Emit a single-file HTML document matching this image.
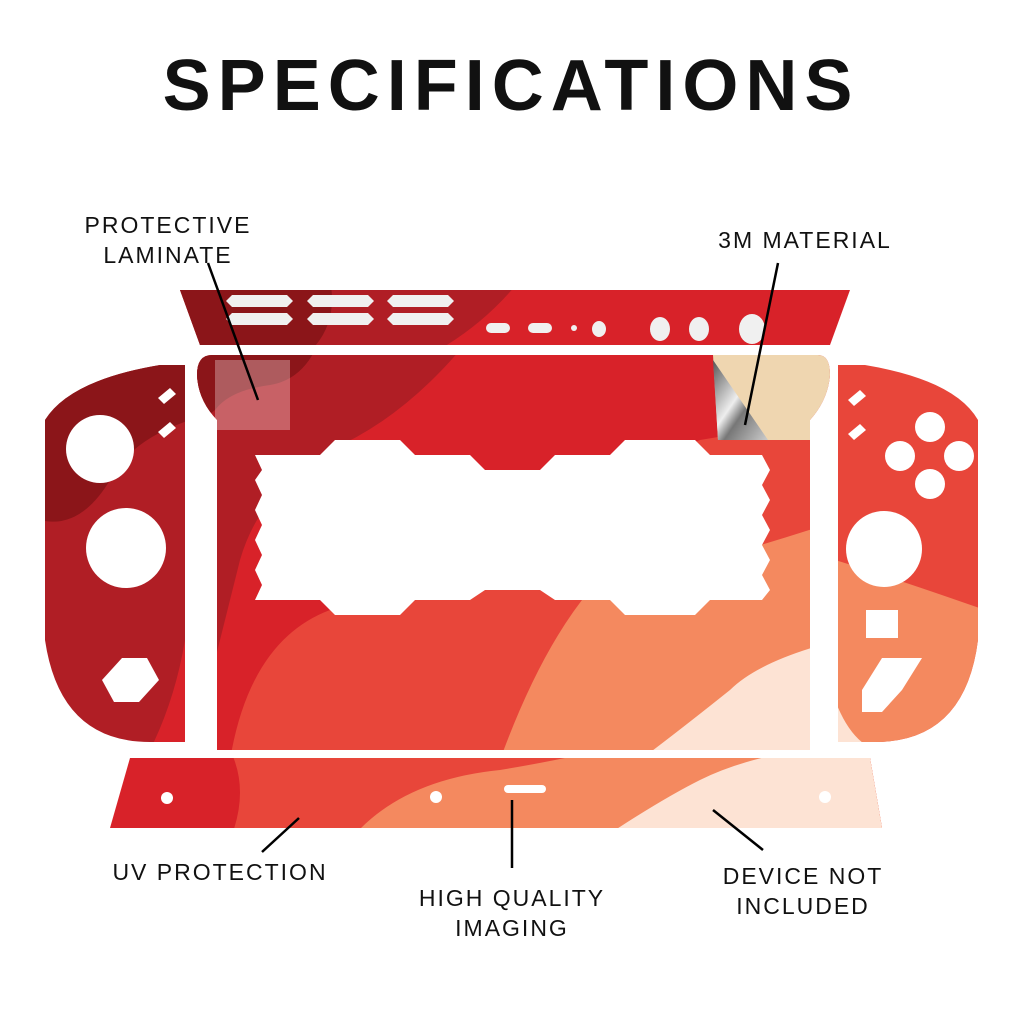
<!DOCTYPE html>
<html><head><style>
body{margin:0;background:#fff;width:1024px;height:1024px;overflow:hidden}
svg{display:block}
text{font-family:"Liberation Sans",sans-serif;fill:#111}
.l{font-size:23px;letter-spacing:2px}
</style></head><body>
<svg width="1024" height="1024" viewBox="0 0 1024 1024">
<defs>
<clipPath id="body"><path d="M212,355 H818 Q830,355 830,375 Q828,400 810,420 V750 H217 V420 Q198,400 197,375 Q197,355 212,355 Z"/></clipPath>
<clipPath id="top"><path d="M180,290 H850 L830,345 H200 Z"/></clipPath>
<clipPath id="lj"><path d="M185,365 V742 H150 Q60,742 45,640 V420 Q70,380 160,365 Z"/></clipPath>
<clipPath id="rj"><path d="M838,365 V742 H875 Q965,742 978,640 V420 Q955,380 865,365 Z"/></clipPath>
<clipPath id="bot"><path d="M130,758 H870 L882,828 H110 Z"/></clipPath>
<linearGradient id="met" x1="0" y1="0" x2="1" y2="1"><stop offset="0" stop-color="#555"/><stop offset=".45" stop-color="#eee"/><stop offset=".6" stop-color="#777"/><stop offset="1" stop-color="#ccc"/></linearGradient>
</defs>
<text x="511" y="110" text-anchor="middle" style="font-size:72px;font-weight:900;letter-spacing:7px">SPECIFICATIONS</text>

<g clip-path="url(#top)">
<rect x="170" y="280" width="700" height="80" fill="#d82229"/>
<path d="M170,280 H520 Q480,330 420,360 H170Z" fill="#b01e25"/>
<path d="M170,280 H330 Q340,330 300,360 H170Z" fill="#8b1519"/>
</g>
<g fill="#f0f0f0">
<path d="M232,295h55l6,6l-6,6h-55l-6-6z"/><path d="M313,295h55l6,6l-6,6h-55l-6-6z"/><path d="M393,295h55l6,6l-6,6h-55l-6-6z"/>
<path d="M232,313h55l6,6l-6,6h-55l-6-6z"/><path d="M313,313h55l6,6l-6,6h-55l-6-6z"/><path d="M393,313h55l6,6l-6,6h-55l-6-6z"/>
<rect x="486" y="323" width="24" height="10" rx="5"/><rect x="528" y="323" width="24" height="10" rx="5"/>
<circle cx="574" cy="328" r="3"/><ellipse cx="599" cy="329" rx="7" ry="8"/>
<ellipse cx="660" cy="329" rx="10" ry="12"/><ellipse cx="699" cy="329" rx="10" ry="12"/><ellipse cx="752" cy="329" rx="13" ry="15"/>
</g>

<g clip-path="url(#body)">
<rect x="190" y="350" width="650" height="410" fill="#d82229"/>
<path d="M190,350 H460 Q400,420 330,450 Q260,490 240,560 L190,760Z" fill="#b01e25"/>
<path d="M190,350 H315 Q300,380 270,385 Q230,390 215,410 L190,430Z" fill="#8b1519"/>
<path d="M700,440 Q760,430 840,420 V760 H230 Q250,640 330,610 Q480,560 600,500 Q650,460 700,440Z" fill="#e8463a"/>
<path d="M840,520 Q720,560 590,590 Q540,650 500,760 H840Z" fill="#f4895f"/>
<path d="M840,640 Q760,660 730,690 Q680,730 640,760 H840Z" fill="#fde3d4"/>
<path d="M713,355 H830 V440 L718,440Z" fill="#efd6b0"/>
<path d="M713,360 L768,440 H718Z" fill="url(#met)"/>
</g>
<path d="M255,455 H320 L335,440 H400 L415,455 H470 L485,470 H540 L555,455 H610 L625,440 H695 L710,455 H762 L770,470 L762,485 L770,500 L762,515 L770,530 L762,545 L770,560 L762,575 L770,590 L762,600 H710 L695,615 H625 L610,600 H555 L540,590 H485 L470,600 H415 L400,615 H335 L320,600 H255 L262,585 L255,570 L262,555 L255,540 L262,525 L255,510 L262,495 L255,480 L262,470Z" fill="#fff"/>
<rect x="215" y="360" width="75" height="70" fill="#fff" opacity=".3"/>

<g clip-path="url(#lj)">
<rect x="40" y="360" width="150" height="390" fill="#b01e25"/>
<path d="M40,360 H190 V420 Q130,440 110,480 Q80,530 40,520Z" fill="#8b1519"/>
<path d="M185,640 V750 H150 Q175,700 185,640Z" fill="#d82229"/>
</g>
<g fill="#fff">
<circle cx="100" cy="449" r="34"/><circle cx="126" cy="548" r="40"/>
<path d="M158,398l12,-10l6,6l-12,10z"/><path d="M158,432l12,-10l6,6l-12,10z"/>
<path d="M102,680l20,-22h25l12,22l-20,22h-25z"/>
</g>
<g clip-path="url(#rj)">
<rect x="835" y="360" width="150" height="390" fill="#e8463a"/>
<path d="M835,560 Q900,580 985,610 V750 H835Z" fill="#f4895f"/>
<path d="M835,700 Q850,740 875,750 H835Z" fill="#fde3d4"/>
</g>
<g fill="#fff">
<circle cx="930" cy="427" r="15"/><circle cx="900" cy="456" r="15"/><circle cx="959" cy="456" r="15"/><circle cx="930" cy="484" r="15"/>
<circle cx="884" cy="549" r="38"/>
<rect x="866" y="610" width="32" height="28"/>
<path d="M848,400l12,-10l6,6l-12,10z"/><path d="M848,434l12,-10l6,6l-12,10z"/>
<path d="M862,690l20,-32h40l-20,32l-20,22h-20z"/>
</g>

<g clip-path="url(#bot)">
<rect x="100" y="750" width="790" height="90" fill="#d82229"/>
<path d="M230,750 H890 V840 H230 Q250,790 230,750Z" fill="#e8463a"/>
<path d="M350,840 Q400,780 500,770 Q560,760 600,750 H890 V840Z" fill="#f4895f"/>
<path d="M600,840 Q660,800 700,780 Q740,760 800,750 H890 V840Z" fill="#fde3d4"/>
</g>
<g fill="#fff"><circle cx="167" cy="798" r="6"/><circle cx="436" cy="797" r="6"/><circle cx="825" cy="797" r="6"/><rect x="504" y="785" width="42" height="8" rx="4"/></g>

<g stroke="#000" stroke-width="2.5" fill="none">
<line x1="208" y1="263" x2="258" y2="400"/>
<line x1="778" y1="263" x2="745" y2="425"/>
<line x1="262" y1="852" x2="299" y2="818"/>
<line x1="512" y1="868" x2="512" y2="800"/>
<line x1="763" y1="850" x2="713" y2="810"/>
</g>
<text class="l" x="168" y="233" text-anchor="middle">PROTECTIVE</text>
<text class="l" x="168" y="263" text-anchor="middle">LAMINATE</text>
<text class="l" x="805" y="248" text-anchor="middle">3M MATERIAL</text>
<text class="l" x="220" y="880" text-anchor="middle">UV PROTECTION</text>
<text class="l" x="512" y="906" text-anchor="middle">HIGH QUALITY</text>
<text class="l" x="512" y="936" text-anchor="middle">IMAGING</text>
<text class="l" x="803" y="884" text-anchor="middle">DEVICE NOT</text>
<text class="l" x="803" y="914" text-anchor="middle">INCLUDED</text>
</svg>
</body></html>
